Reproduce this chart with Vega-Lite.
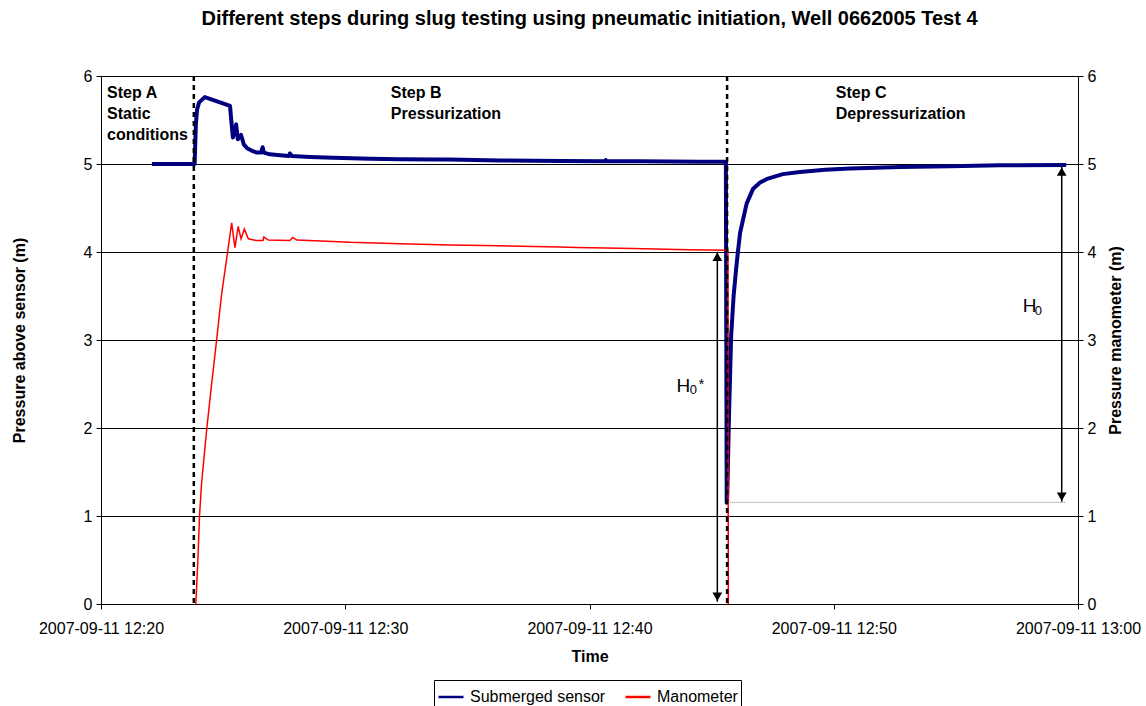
{
  "$schema": "https://vega.github.io/schema/vega-lite/v6.json",
  "width": 977,
  "height": 528,
  "autosize": {"type": "none"},
  "padding": {"left": 101, "top": 76, "right": 68, "bottom": 102},
  "background": "#ffffff",
  "title": {
    "text": "Different steps during slug testing using pneumatic initiation, Well 0662005 Test 4",
    "font": "Liberation Sans",
    "fontSize": 20,
    "fontWeight": "bold",
    "color": "#000",
    "anchor": "middle",
    "offset": 39
  },
  "config": {
    "font": "Liberation Sans",
    "view": {"stroke": "#808080", "strokeWidth": 1},
    "axis": {
      "labelFont": "Liberation Sans",
      "labelFontSize": 16,
      "labelColor": "#000",
      "titleFont": "Liberation Sans",
      "titleFontSize": 16,
      "titleFontWeight": "bold",
      "titleColor": "#000",
      "domainColor": "#000",
      "domainWidth": 1,
      "tickColor": "#000",
      "tickSize": 5,
      "grid": false
    }
  },
  "datasets": {
    "sensor": [
      {"t": "2007-09-11T12:22:05", "v": 5.0, "s": "Submerged sensor"},
      {"t": "2007-09-11T12:23:46", "v": 5.0, "s": "Submerged sensor"},
      {"t": "2007-09-11T12:23:50", "v": 5.0, "s": "Submerged sensor"},
      {"t": "2007-09-11T12:23:53", "v": 5.45, "s": "Submerged sensor"},
      {"t": "2007-09-11T12:23:56", "v": 5.62, "s": "Submerged sensor"},
      {"t": "2007-09-11T12:24:01", "v": 5.70, "s": "Submerged sensor"},
      {"t": "2007-09-11T12:24:15", "v": 5.76, "s": "Submerged sensor"},
      {"t": "2007-09-11T12:25:17", "v": 5.66, "s": "Submerged sensor"},
      {"t": "2007-09-11T12:25:19", "v": 5.55, "s": "Submerged sensor"},
      {"t": "2007-09-11T12:25:24", "v": 5.30, "s": "Submerged sensor"},
      {"t": "2007-09-11T12:25:32", "v": 5.45, "s": "Submerged sensor"},
      {"t": "2007-09-11T12:25:36", "v": 5.28, "s": "Submerged sensor"},
      {"t": "2007-09-11T12:25:44", "v": 5.33, "s": "Submerged sensor"},
      {"t": "2007-09-11T12:25:51", "v": 5.22, "s": "Submerged sensor"},
      {"t": "2007-09-11T12:25:59", "v": 5.18, "s": "Submerged sensor"},
      {"t": "2007-09-11T12:26:11", "v": 5.15, "s": "Submerged sensor"},
      {"t": "2007-09-11T12:26:23", "v": 5.13, "s": "Submerged sensor"},
      {"t": "2007-09-11T12:26:33", "v": 5.13, "s": "Submerged sensor"},
      {"t": "2007-09-11T12:26:37", "v": 5.19, "s": "Submerged sensor"},
      {"t": "2007-09-11T12:26:40", "v": 5.13, "s": "Submerged sensor"},
      {"t": "2007-09-11T12:26:55", "v": 5.11, "s": "Submerged sensor"},
      {"t": "2007-09-11T12:27:20", "v": 5.10, "s": "Submerged sensor"},
      {"t": "2007-09-11T12:27:42", "v": 5.09, "s": "Submerged sensor"},
      {"t": "2007-09-11T12:27:44", "v": 5.12, "s": "Submerged sensor"},
      {"t": "2007-09-11T12:27:49", "v": 5.09, "s": "Submerged sensor"},
      {"t": "2007-09-11T12:28:33", "v": 5.08, "s": "Submerged sensor"},
      {"t": "2007-09-11T12:29:30", "v": 5.07, "s": "Submerged sensor"},
      {"t": "2007-09-11T12:31:01", "v": 5.06, "s": "Submerged sensor"},
      {"t": "2007-09-11T12:32:15", "v": 5.055, "s": "Submerged sensor"},
      {"t": "2007-09-11T12:33:45", "v": 5.05, "s": "Submerged sensor"},
      {"t": "2007-09-11T12:34:17", "v": 5.05, "s": "Submerged sensor"},
      {"t": "2007-09-11T12:36:20", "v": 5.04, "s": "Submerged sensor"},
      {"t": "2007-09-11T12:38:48", "v": 5.035, "s": "Submerged sensor"},
      {"t": "2007-09-11T12:40:38", "v": 5.03, "s": "Submerged sensor"},
      {"t": "2007-09-11T12:40:40", "v": 5.045, "s": "Submerged sensor"},
      {"t": "2007-09-11T12:40:42", "v": 5.03, "s": "Submerged sensor"},
      {"t": "2007-09-11T12:42:04", "v": 5.03, "s": "Submerged sensor"},
      {"t": "2007-09-11T12:44:31", "v": 5.025, "s": "Submerged sensor"},
      {"t": "2007-09-11T12:45:35", "v": 5.025, "s": "Submerged sensor"},
      {"t": "2007-09-11T12:45:37", "v": 1.15, "s": "Submerged sensor"},
      {"t": "2007-09-11T12:45:38", "v": 1.15, "s": "Submerged sensor"},
      {"t": "2007-09-11T12:45:43", "v": 2.2, "s": "Submerged sensor"},
      {"t": "2007-09-11T12:45:48", "v": 3.05, "s": "Submerged sensor"},
      {"t": "2007-09-11T12:45:54", "v": 3.5, "s": "Submerged sensor"},
      {"t": "2007-09-11T12:46:00", "v": 3.8, "s": "Submerged sensor"},
      {"t": "2007-09-11T12:46:05", "v": 4.02, "s": "Submerged sensor"},
      {"t": "2007-09-11T12:46:10", "v": 4.22, "s": "Submerged sensor"},
      {"t": "2007-09-11T12:46:26", "v": 4.55, "s": "Submerged sensor"},
      {"t": "2007-09-11T12:46:42", "v": 4.72, "s": "Submerged sensor"},
      {"t": "2007-09-11T12:46:59", "v": 4.79, "s": "Submerged sensor"},
      {"t": "2007-09-11T12:47:16", "v": 4.83, "s": "Submerged sensor"},
      {"t": "2007-09-11T12:47:55", "v": 4.885, "s": "Submerged sensor"},
      {"t": "2007-09-11T12:48:37", "v": 4.91, "s": "Submerged sensor"},
      {"t": "2007-09-11T12:49:39", "v": 4.935, "s": "Submerged sensor"},
      {"t": "2007-09-11T12:50:40", "v": 4.95, "s": "Submerged sensor"},
      {"t": "2007-09-11T12:52:43", "v": 4.965, "s": "Submerged sensor"},
      {"t": "2007-09-11T12:54:46", "v": 4.975, "s": "Submerged sensor"},
      {"t": "2007-09-11T12:56:48", "v": 4.985, "s": "Submerged sensor"},
      {"t": "2007-09-11T12:59:31", "v": 4.99, "s": "Submerged sensor"}
    ],
    "mano": [
      {"t": "2007-09-11T12:23:53", "v": 0.0, "s": "Manometer"},
      {"t": "2007-09-11T12:23:58", "v": 0.5, "s": "Manometer"},
      {"t": "2007-09-11T12:24:02", "v": 1.0, "s": "Manometer"},
      {"t": "2007-09-11T12:24:07", "v": 1.37, "s": "Manometer"},
      {"t": "2007-09-11T12:24:20", "v": 2.0, "s": "Manometer"},
      {"t": "2007-09-11T12:24:32", "v": 2.51, "s": "Manometer"},
      {"t": "2007-09-11T12:24:44", "v": 3.0, "s": "Manometer"},
      {"t": "2007-09-11T12:24:56", "v": 3.51, "s": "Manometer"},
      {"t": "2007-09-11T12:25:11", "v": 4.0, "s": "Manometer"},
      {"t": "2007-09-11T12:25:21", "v": 4.33, "s": "Manometer"},
      {"t": "2007-09-11T12:25:29", "v": 4.05, "s": "Manometer"},
      {"t": "2007-09-11T12:25:37", "v": 4.29, "s": "Manometer"},
      {"t": "2007-09-11T12:25:44", "v": 4.15, "s": "Manometer"},
      {"t": "2007-09-11T12:25:52", "v": 4.26, "s": "Manometer"},
      {"t": "2007-09-11T12:26:02", "v": 4.15, "s": "Manometer"},
      {"t": "2007-09-11T12:26:22", "v": 4.13, "s": "Manometer"},
      {"t": "2007-09-11T12:26:38", "v": 4.13, "s": "Manometer"},
      {"t": "2007-09-11T12:26:40", "v": 4.17, "s": "Manometer"},
      {"t": "2007-09-11T12:26:51", "v": 4.135, "s": "Manometer"},
      {"t": "2007-09-11T12:27:44", "v": 4.13, "s": "Manometer"},
      {"t": "2007-09-11T12:27:51", "v": 4.165, "s": "Manometer"},
      {"t": "2007-09-11T12:28:01", "v": 4.135, "s": "Manometer"},
      {"t": "2007-09-11T12:29:30", "v": 4.12, "s": "Manometer"},
      {"t": "2007-09-11T12:30:12", "v": 4.11, "s": "Manometer"},
      {"t": "2007-09-11T12:32:15", "v": 4.095, "s": "Manometer"},
      {"t": "2007-09-11T12:34:17", "v": 4.08, "s": "Manometer"},
      {"t": "2007-09-11T12:36:20", "v": 4.07, "s": "Manometer"},
      {"t": "2007-09-11T12:38:48", "v": 4.057, "s": "Manometer"},
      {"t": "2007-09-11T12:39:29", "v": 4.05, "s": "Manometer"},
      {"t": "2007-09-11T12:41:47", "v": 4.04, "s": "Manometer"},
      {"t": "2007-09-11T12:44:02", "v": 4.025, "s": "Manometer"},
      {"t": "2007-09-11T12:45:40", "v": 4.02, "s": "Manometer"},
      {"t": "2007-09-11T12:45:41", "v": 0.0, "s": "Manometer"}
    ],
    "events": [
      {"t": "2007-09-11T12:23:48"},
      {"t": "2007-09-11T12:45:38"}
    ],
    "dotted": [
      {"t": "2007-09-11T12:45:41", "v": 1.155},
      {"t": "2007-09-11T12:59:31", "v": 1.155}
    ],
    "arrows": [
      {"t": "2007-09-11T12:45:14", "lo": 0.026, "hi": 4.003},
      {"t": "2007-09-11T12:59:20", "lo": 1.163, "hi": 4.97}
    ],
    "headsup": [
      {"t": "2007-09-11T12:45:14", "v": 4.003},
      {"t": "2007-09-11T12:59:20", "v": 4.97}
    ],
    "headsdown": [
      {"t": "2007-09-11T12:45:14", "v": 0.026},
      {"t": "2007-09-11T12:59:20", "v": 1.163}
    ],
    "steps": [
      {"t": "2007-09-11T12:20:15", "v": 5.748, "txt": ["Step A", "Static", "conditions"]},
      {"t": "2007-09-11T12:31:52", "v": 5.748, "txt": ["Step B", "Pressurization"]},
      {"t": "2007-09-11T12:50:05", "v": 5.748, "txt": ["Step C", "Depressurization"]}
    ],
    "hmain": [
      {"t": "2007-09-11T12:43:34", "v": 2.409, "txt": "H"},
      {"t": "2007-09-11T12:57:44", "v": 3.318, "txt": "H"}
    ],
    "hsub": [
      {"t": "2007-09-11T12:44:06", "v": 2.386, "txt": "0"},
      {"t": "2007-09-11T12:58:14", "v": 3.284, "txt": "0"}
    ],
    "hstar": [
      {"t": "2007-09-11T12:44:28", "v": 2.446, "txt": "*"}
    ]
  },
  "resolve": {"scale": {"y": "independent"}},
  "layer": [
    {
      "data": {"name": "sensor"},
      "mark": {"type": "line", "strokeWidth": 4, "strokeJoin": "round"},
      "encoding": {
        "x": {
          "field": "t", "type": "temporal",
          "scale": {"domain": ["2007-09-11T12:20:00", "2007-09-11T13:00:00"], "nice": false},
          "axis": {
            "title": "Time",
            "format": "%Y-%m-%d %H:%M",
            "tickCount": {"interval": "minutes", "step": 10},
            "labelPadding": 11,
            "titlePadding": 12,
            "labelFlush": false,
            "labelOverlap": false
          }
        },
        "y": {
          "field": "v", "type": "quantitative",
          "scale": {"domain": [0, 6], "nice": false},
          "axis": {
            "orient": "left",
            "values": [0, 1, 2, 3, 4, 5, 6],
            "grid": true,
            "gridColor": "#000",
            "gridWidth": 1,
            "title": "Pressure above sensor (m)",
            "labelPadding": 4,
            "titlePadding": 56
          }
        },
        "color": {
          "field": "s", "type": "nominal",
          "scale": {"domain": ["Submerged sensor", "Manometer"], "range": ["#000080", "#ff0000"]},
          "legend": {
            "title": null,
            "orient": "none",
            "legendX": 333,
            "legendY": 604,
            "direction": "horizontal",
            "strokeColor": "#000",
            "fillColor": "#fff",
            "padding": 3,
            "labelFont": "Liberation Sans",
            "labelFontSize": 16,
            "labelColor": "#000",
            "labelLimit": 400,
            "symbolType": "stroke",
            "symbolSize": 625,
            "symbolStrokeWidth": 2.5,
            "labelOffset": 5,
            "columnPadding": 14
          }
        }
      }
    },
    {
      "data": {"name": "mano"},
      "mark": {"type": "line", "strokeWidth": 1.5},
      "encoding": {
        "x": {"field": "t", "type": "temporal"},
        "y": {
          "field": "v", "type": "quantitative",
          "scale": {"domain": [0, 6], "nice": false},
          "axis": {
            "orient": "right",
            "values": [0, 1, 2, 3, 4, 5, 6],
            "title": "Pressure manometer (m)",
            "titleAngle": 270,
            "labelPadding": 4,
            "titlePadding": 28
          }
        },
        "color": {"field": "s", "type": "nominal"}
      }
    },
    {
      "data": {"name": "events"},
      "mark": {"type": "rule", "color": "#000", "strokeWidth": 2.5, "strokeDash": [5, 4]},
      "encoding": {
        "x": {"field": "t", "type": "temporal"}
      }
    },
    {
      "data": {"name": "dotted"},
      "mark": {"type": "line", "color": "#808080", "strokeWidth": 1, "strokeDash": [1, 1]},
      "encoding": {
        "x": {"field": "t", "type": "temporal"},
        "y": {"field": "v", "type": "quantitative", "scale": {"domain": [0, 6], "nice": false}, "axis": null}
      }
    },
    {
      "data": {"name": "arrows"},
      "mark": {"type": "rule", "color": "#000", "strokeWidth": 1.5},
      "encoding": {
        "x": {"field": "t", "type": "temporal"},
        "y": {"field": "lo", "type": "quantitative", "scale": {"domain": [0, 6], "nice": false}, "axis": null},
        "y2": {"field": "hi"}
      }
    },
    {
      "data": {"name": "headsup"},
      "mark": {"type": "point", "shape": "triangle-up", "filled": true, "color": "#000", "size": 95, "opacity": 1, "yOffset": 5},
      "encoding": {
        "x": {"field": "t", "type": "temporal"},
        "y": {"field": "v", "type": "quantitative", "scale": {"domain": [0, 6], "nice": false}, "axis": null}
      }
    },
    {
      "data": {"name": "headsdown"},
      "mark": {"type": "point", "shape": "triangle-down", "filled": true, "color": "#000", "size": 95, "opacity": 1, "yOffset": -5},
      "encoding": {
        "x": {"field": "t", "type": "temporal"},
        "y": {"field": "v", "type": "quantitative", "scale": {"domain": [0, 6], "nice": false}, "axis": null}
      }
    },
    {
      "data": {"name": "steps"},
      "mark": {"type": "text", "align": "left", "baseline": "alphabetic", "font": "Liberation Sans", "fontSize": 16, "fontWeight": "bold", "color": "#000", "lineHeight": 21},
      "encoding": {
        "x": {"field": "t", "type": "temporal"},
        "y": {"field": "v", "type": "quantitative", "scale": {"domain": [0, 6], "nice": false}, "axis": null},
        "text": {"field": "txt", "type": "nominal"}
      }
    },
    {
      "data": {"name": "hmain"},
      "mark": {"type": "text", "align": "left", "baseline": "alphabetic", "font": "Liberation Sans", "fontSize": 19, "color": "#000"},
      "encoding": {
        "x": {"field": "t", "type": "temporal"},
        "y": {"field": "v", "type": "quantitative", "scale": {"domain": [0, 6], "nice": false}, "axis": null},
        "text": {"field": "txt", "type": "nominal"}
      }
    },
    {
      "data": {"name": "hsub"},
      "mark": {"type": "text", "align": "left", "baseline": "alphabetic", "font": "Liberation Sans", "fontSize": 13, "color": "#000"},
      "encoding": {
        "x": {"field": "t", "type": "temporal"},
        "y": {"field": "v", "type": "quantitative", "scale": {"domain": [0, 6], "nice": false}, "axis": null},
        "text": {"field": "txt", "type": "nominal"}
      }
    },
    {
      "data": {"name": "hstar"},
      "mark": {"type": "text", "align": "left", "baseline": "alphabetic", "font": "Liberation Sans", "fontSize": 15, "color": "#000"},
      "encoding": {
        "x": {"field": "t", "type": "temporal"},
        "y": {"field": "v", "type": "quantitative", "scale": {"domain": [0, 6], "nice": false}, "axis": null},
        "text": {"field": "txt", "type": "nominal"}
      }
    }
  ]
}
